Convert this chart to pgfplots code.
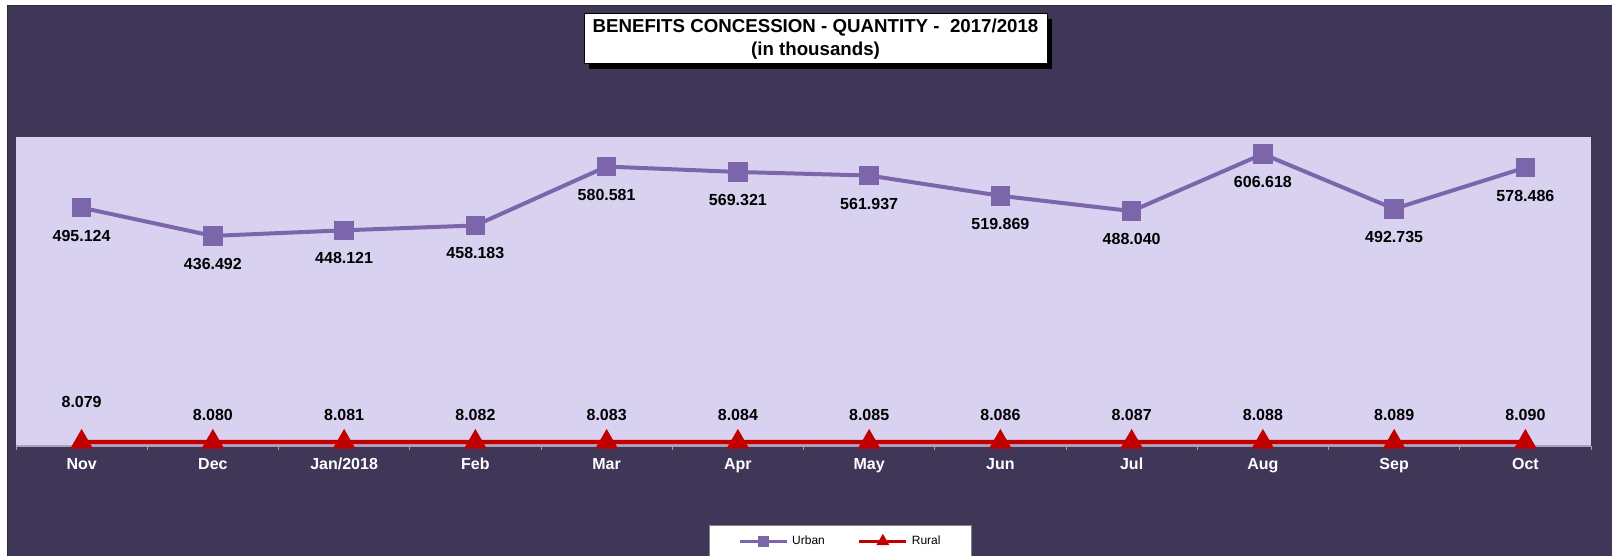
\documentclass[border=0pt]{standalone}
\usepackage{fontspec}
\setmainfont{Liberation Sans}
\usepackage{pgfplots}
\usepackage{pgfplotstable}
\pgfplotsset{compat=1.18}

\definecolor{bgpurple}{HTML}{403658}
\definecolor{plotbg}{HTML}{D9D1F0}
\definecolor{urbancol}{HTML}{7B66AC}
\definecolor{ruralcol}{HTML}{C00000}
\definecolor{axisgray}{HTML}{A8A2BC}
\definecolor{edgedark}{HTML}{2A2A30}

% month, urban, label, rural, label, label offset
\pgfplotstableread{
x urban ulab rural rlab rdy
0 495.124 495.124 8.079 8.079 40
1 436.492 436.492 8.080 8.080 27
2 448.121 448.121 8.081 8.081 27
3 458.183 458.183 8.082 8.082 27
4 580.581 580.581 8.083 8.083 27
5 569.321 569.321 8.084 8.084 27
6 561.937 561.937 8.085 8.085 27
7 519.869 519.869 8.086 8.086 27
8 488.040 488.040 8.087 8.087 27
9 606.618 606.618 8.088 8.088 27
10 492.735 492.735 8.089 8.089 27
11 578.486 578.486 8.090 8.090 27
}\datatable

\newcommand{\lblfont}{\fontsize{16bp}{18bp}\selectfont\bfseries}

\begin{document}
\begin{tikzpicture}[x=1bp,y=1bp]
\useasboundingbox (0,0) rectangle (1612,556);
\fill[white] (0,0) rectangle (1612,556);
\fill[bgpurple] (7,0) rectangle (1612,550);
\draw[edgedark, line width=1.5bp] (7.5,0) -- (7.5,550.5) -- (1612,550.5);

% title box with shadow
\fill[black] (589,487) rectangle (1052,537);
\draw[black, line width=1bp, fill=white] (584,492) rectangle (1047,542);
\node[align=center, font=\fontsize{18.7bp}{23bp}\selectfont\bfseries] at (815.5,517)
  {BENEFITS CONCESSION - QUANTITY -\ \ 2017/2018\\(in thousands)};

\begin{axis}[
  at={(16bp,110bp)}, anchor=south west,
  scale only axis, width=1575bp, height=309bp,
  xmin=-0.5, xmax=11.5, ymin=0, ymax=642,
  enlargelimits=false, clip=false,
  axis background/.style={fill=plotbg},
  axis x line*=bottom, axis y line=none,
  x axis line style={draw=axisgray, line width=1.5bp},
  xtick={0,...,11},
  xticklabels={Nov,Dec,Jan/2018,Feb,Mar,Apr,May,Jun,Jul,Aug,Sep,Oct},
  major tick length=0pt,
  minor xtick={-0.5,0.5,...,11.5},
  minor tick length=4bp, tick align=outside,
  minor tick style={draw=axisgray, line width=1bp},
  ytick=\empty,
  xticklabel style={font=\lblfont, text=white, anchor=base, yshift=-23.5bp},
  point meta=explicit symbolic,
  nodes near coords,
  nodes near coords align={center},
  every node near coord/.append style={font=\lblfont, text=black},
  legend columns=2,
  legend style={at={(0.44,-0.2557)}, anchor=north west, draw=gray, fill=white,
    font=\fontsize{12bp}{14bp}\selectfont, inner xsep=29bp, inner ysep=9bp,
    /tikz/every odd column/.append style={column sep=2bp},
    /tikz/every even column/.append style={column sep=31bp}},
]
\addplot[color=urbancol, line width=4bp, mark=square*, mark size=7.8bp,
  mark options={draw=none, fill=urbancol},
  every node near coord/.append style={yshift=-28bp},
  legend image code/.code={\draw[line width=3bp, mark size=4bp, mark repeat=2, mark phase=2]
    plot coordinates {(0bp,0bp) (23.5bp,0bp) (47bp,0bp)};}]
  table[x=x, y=urban, meta=ulab] {\datatable};
\addlegendentry{Urban}
\addplot[color=ruralcol, line width=4.5bp, mark=triangle*, mark size=8.7bp,
  mark options={draw=none, fill=ruralcol},
  visualization depends on={\thisrow{rdy} \as \rdy},
  every node near coord/.append style={yshift=\rdy},
  legend image code/.code={\draw[line width=3bp, mark size=4.5bp, mark repeat=2, mark phase=2]
    plot coordinates {(0bp,0bp) (23.5bp,0bp) (47bp,0bp)};}]
  table[x=x, y=rural, meta=rlab] {\datatable};
\addlegendentry{Rural}
\end{axis}
\end{tikzpicture}
\end{document}
